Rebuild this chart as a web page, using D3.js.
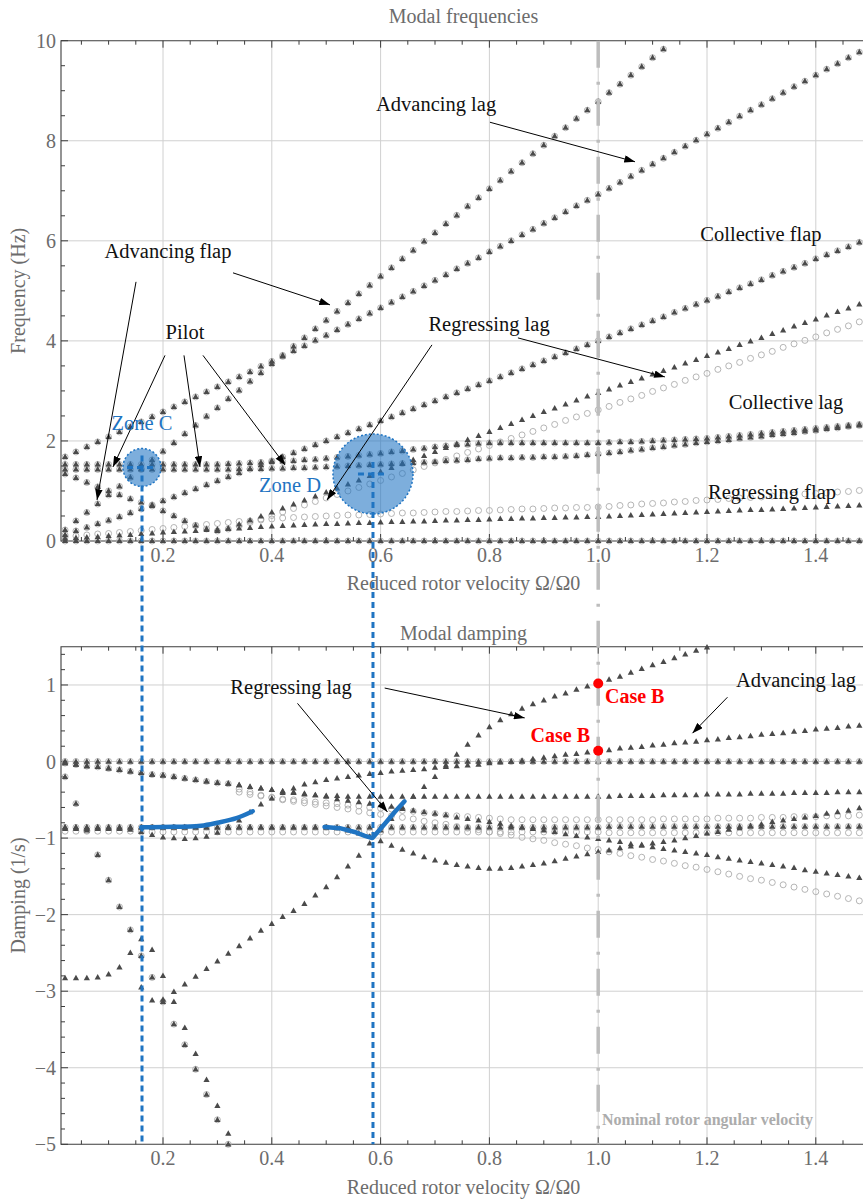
<!DOCTYPE html>
<html><head><meta charset="utf-8">
<script src="https://cdn.jsdelivr.net/npm/d3@7"></script>
<style>
body{margin:0;background:#fff}
svg{display:block}
text{font-family:"Liberation Serif","Times New Roman",serif}
</style></head>
<body><svg id="c" width="863" height="1200"></svg>
<script>
// ---------- sampling grid (reduced rotor velocity) ----------
const omega = [0.02,0.04,0.06,0.08,0.10,0.12,0.14,0.16,0.18,0.20,
 0.22,0.24,0.26,0.28,0.30,0.32,0.34,0.36,0.38,0.40,
 0.42,0.44,0.46,0.48,0.50,0.52,0.54,0.56,0.58,0.60,
 0.62,0.64,0.66,0.68,0.70,0.72,0.74,0.76,0.78,0.80,
 0.82,0.84,0.86,0.88,0.90,0.92,0.94,0.96,0.98,1.00,
 1.02,1.04,1.06,1.08,1.10,1.12,1.14,1.16,1.18,1.20,
 1.22,1.24,1.26,1.28,1.30,1.32,1.34,1.36,1.38,1.40,
 1.42,1.44,1.46,1.48,1.50];

// ---------- Modal frequencies (Hz) ----------
const freqAdvFlap = [0.22,0.40,0.57,0.74,0.92,1.09,1.27,1.44,1.62,1.79,
 1.96,2.14,2.31,2.49,2.66,2.84,3.01,3.19,3.36,3.54,
 3.71,3.89,4.06,4.24,4.41,4.59,4.76,4.94,5.11,5.29,
 5.46,5.64,5.81,5.99,6.16,6.34,6.51,6.69,6.86,7.04,
 7.21,7.39,7.56,7.74,7.91,8.09,8.26,8.44,8.61,8.78,
 8.96,9.13,9.31,9.48,9.66,9.83,10.01];
const freqAdvLag = [1.68,1.78,1.88,1.98,2.08,2.18,2.28,2.38,2.48,2.58,
 2.68,2.78,2.88,2.98,3.08,3.18,3.28,3.38,3.49,3.59,
 3.69,3.80,3.90,4.01,4.11,4.22,4.33,4.44,4.55,4.66,
 4.77,4.88,4.99,5.10,5.21,5.32,5.44,5.55,5.66,5.78,
 5.89,6.00,6.12,6.23,6.35,6.46,6.58,6.70,6.81,6.93,
 7.05,7.17,7.29,7.41,7.53,7.65,7.77,7.89,8.01,8.13,
 8.25,8.37,8.49,8.61,8.72,8.84,8.96,9.08,9.19,9.31,
 9.43,9.54,9.66,9.77,9.89];
const freqCollFlap = [0.12,0.20,0.27,0.34,0.41,0.48,0.56,0.64,0.72,0.80,
 0.88,0.96,1.04,1.12,1.20,1.28,1.36,1.44,1.52,1.60,
 1.68,1.76,1.84,1.92,2.00,2.08,2.16,2.24,2.32,2.40,
 2.48,2.56,2.64,2.72,2.80,2.88,2.96,3.04,3.12,3.20,
 3.28,3.36,3.44,3.52,3.60,3.68,3.76,3.84,3.92,4.00,
 4.08,4.16,4.24,4.32,4.40,4.48,4.57,4.65,4.73,4.81,
 4.89,4.98,5.06,5.14,5.22,5.31,5.39,5.47,5.55,5.64,
 5.72,5.80,5.88,5.97,6.05];
const freqRegLagTri = [1.34,1.26,1.17,1.08,1.00,0.92,0.84,0.77,0.70,0.60,
 0.50,0.40,0.31,0.24,0.20,0.25,0.33,0.41,0.49,0.57,
 0.65,0.73,0.81,0.89,0.97,1.05,1.13,1.21,1.30,1.38,
 1.46,1.54,1.62,1.70,1.78,1.86,1.94,2.02,2.10,2.18,
 2.26,2.34,2.42,2.50,2.58,2.65,2.73,2.81,2.89,2.96,
 3.03,3.11,3.18,3.25,3.33,3.40,3.47,3.55,3.62,3.70,
 3.77,3.84,3.92,3.99,4.06,4.14,4.21,4.29,4.36,4.43,
 4.51,4.58,4.65,4.73,4.80];
const freqRegLagCirc = [1.34,1.26,1.17,1.08,1.00,0.92,0.84,0.77,0.70,0.60,
 0.50,0.40,0.31,0.24,0.20,0.24,0.30,0.37,0.44,0.51,
 0.58,0.65,0.72,0.79,0.86,0.93,1.00,1.07,1.14,1.21,
 1.28,1.35,1.42,1.49,1.56,1.63,1.70,1.77,1.84,1.91,
 1.98,2.05,2.12,2.19,2.26,2.33,2.41,2.48,2.55,2.62,
 2.69,2.77,2.84,2.91,2.99,3.06,3.13,3.21,3.28,3.35,
 3.43,3.50,3.57,3.65,3.72,3.79,3.87,3.94,4.01,4.08,
 4.16,4.23,4.30,4.38,4.45];
const freqPilot1 = [1.53,1.53,1.53,1.53,1.53,1.53,1.53,1.53,1.53,1.53,
 1.53,1.53,1.53,1.53,1.53,1.54,1.55,1.56,1.57,1.58,
 1.59,1.60,1.62,1.63,1.65,1.67,1.69,1.71,1.73,1.75,
 1.78,1.80,1.83,1.85,1.88,1.90,1.92,1.93,1.95,1.96,
 1.96,1.96,1.96,1.96,1.96,1.96,1.96,1.96,1.96,1.96,
 1.97,1.98,1.98,1.99,2.00,2.01,2.02,2.03,2.04,2.05,
 2.07,2.09,2.11,2.13,2.15,2.17,2.19,2.21,2.23,2.25,
 2.27,2.29,2.31,2.33,2.35];
const freqPilot2 = [1.43,1.43,1.43,1.43,1.43,1.43,1.43,1.43,1.43,1.43,
 1.43,1.43,1.43,1.43,1.43,1.43,1.44,1.44,1.44,1.45,
 1.45,1.46,1.46,1.47,1.48,1.49,1.50,1.51,1.52,1.53,
 1.54,1.55,1.56,1.57,1.58,1.60,1.61,1.62,1.64,1.65,
 1.66,1.66,1.67,1.67,1.68,1.68,1.69,1.70,1.72,1.74,
 1.76,1.78,1.81,1.83,1.86,1.88,1.91,1.93,1.96,1.98,
 2.00,2.02,2.05,2.07,2.09,2.12,2.14,2.16,2.19,2.21,
 2.24,2.26,2.29,2.31,2.34];
const freqRegFlapTri = [0.05,0.06,0.07,0.08,0.10,0.11,0.12,0.14,0.15,0.17,
 0.18,0.19,0.20,0.22,0.23,0.24,0.25,0.26,0.28,0.29,
 0.30,0.31,0.32,0.33,0.34,0.34,0.35,0.36,0.36,0.37,
 0.38,0.38,0.39,0.39,0.40,0.41,0.41,0.42,0.42,0.43,
 0.44,0.44,0.45,0.45,0.46,0.46,0.47,0.47,0.48,0.48,
 0.49,0.50,0.51,0.52,0.53,0.54,0.55,0.56,0.57,0.58,
 0.59,0.60,0.61,0.62,0.62,0.63,0.64,0.65,0.66,0.67,
 0.68,0.69,0.70,0.71,0.72];
const freqRegFlapCirc = [0.08,0.10,0.12,0.14,0.15,0.17,0.19,0.21,0.23,0.25,
 0.27,0.29,0.31,0.33,0.35,0.37,0.39,0.40,0.42,0.44,
 0.46,0.47,0.48,0.49,0.50,0.51,0.52,0.52,0.53,0.54,
 0.55,0.56,0.56,0.57,0.58,0.59,0.59,0.60,0.61,0.61,
 0.62,0.63,0.64,0.64,0.65,0.66,0.66,0.67,0.67,0.68,
 0.69,0.71,0.72,0.74,0.75,0.76,0.78,0.79,0.81,0.82,
 0.83,0.85,0.86,0.87,0.88,0.90,0.91,0.92,0.94,0.95,
 0.96,0.98,0.99,1.01,1.02];
const freqZero = [0,0,0,0,0,0,0,0,0,0, 0,0,0,0,0,0,0,0,0,0, 0,0,0,0,0,0,0,0,0,0,
 0,0,0,0,0,0,0,0,0,0, 0,0,0,0,0,0,0,0,0,0, 0,0,0,0,0,0,0,0,0,0,
 0,0,0,0,0,0,0,0,0,0, 0,0,0,0,0];

// ---------- Modal damping (1/s) ----------
const dampZero = [0,0,0,0,0,0,0,0,0,0, 0,0,0,0,0,0,0,0,0,0, 0,0,0,0,0,0,0,0,0,0,
 0,0,0,0,0,0,0,0,0,0, 0,0,0,0,0,0,0,0,0,0, 0,0,0,0,0,0,0,0,0,0,
 0,0,0,0,0,0,0,0,0,0, 0,0,0,0,0];
const dampSteep = [-0.20,-0.55,-0.90,-1.22,-1.55,-1.90,-2.20,-2.54,-2.82,-3.14,
 -3.43,-3.70,-4.02,-4.35,-4.68,-5.00];
const dampRegLagA = [-2.83,-2.83,-2.83,-2.82,-2.78,-2.69,-2.50,-2.32,-2.46,-2.80,
 -3.14,-3.48,-3.82,-4.16,-4.50,-4.86];
const dampRegLagB = [null,null,null,null,null,null,null,-2.95,-3.12,-3.11,
 -3.01,-2.91,-2.81,-2.71,-2.61,-2.51,-2.41,-2.31,-2.21,-2.12,
 -2.03,-1.95,-1.86,-1.75,-1.64,-1.51,-1.37,-1.23,-1.07,-0.90,
 -0.75,-0.60,-0.46,-0.33,-0.20,-0.05,0.09,0.22,0.34,0.45,
 0.54,0.62,0.69,0.75,0.80,0.85,0.89,0.94,0.98,1.02,
 1.07,1.11,1.16,1.21,1.26,1.30,1.35,1.40,1.45,1.49];
const dampDesc = [-0.02,-0.04,-0.06,-0.07,-0.09,-0.11,-0.13,-0.15,-0.17,-0.18,
 -0.20,-0.22,-0.24,-0.26,-0.28,-0.29,-0.31,-0.33,-0.35,-0.37,
 -0.39,-0.40,-0.42,-0.44,-0.46,-0.49,-0.51,-0.53,-0.55,-0.57,
 -0.59,-0.62,-0.64,-0.66,-0.68,-0.70,-0.73,-0.75,-0.77,-0.79,
 -0.81,-0.84,-0.86,-0.88,-0.90,-0.92,-0.95,-0.97,-0.99,-1.01,
 -1.03,-1.05,-1.08,-1.10,-1.12,-1.14,-1.16,-1.18,-1.20,-1.22,
 -1.25,-1.27,-1.29,-1.31,-1.33,-1.35,-1.37,-1.39,-1.42,-1.44,
 -1.46,-1.48,-1.50,-1.52,-1.54];
const dampFlat45 = [-0.02,-0.04,-0.06,-0.07,-0.09,-0.11,-0.13,-0.15,-0.17,-0.18,
 -0.20,-0.22,-0.24,-0.26,-0.28,-0.29,-0.31,-0.33,-0.35,-0.37,
 -0.39,-0.41,-0.43,-0.44,-0.45,-0.45,-0.46,-0.46,-0.46,-0.46,
 -0.46,-0.46,-0.46,-0.46,-0.46,-0.46,-0.46,-0.46,-0.46,-0.46,
 -0.46,-0.46,-0.46,-0.46,-0.46,-0.46,-0.46,-0.46,-0.46,-0.46,
 -0.46,-0.45,-0.45,-0.45,-0.45,-0.44,-0.44,-0.44,-0.44,-0.43,
 -0.43,-0.43,-0.43,-0.42,-0.42,-0.42,-0.42,-0.41,-0.41,-0.41,
 -0.41,-0.40,-0.40,-0.40,-0.40];
const dampAdvLag = [-0.88,-0.88,-0.88,-0.88,-0.88,-0.88,-0.89,-0.92,-0.96,-0.99,
 -1.00,-1.01,-1.00,-0.98,-0.93,-0.86,-0.77,-0.66,-0.56,-0.48,
 -0.41,-0.35,-0.30,-0.27,-0.24,-0.22,-0.20,-0.18,-0.16,-0.15,
 -0.13,-0.12,-0.11,-0.10,-0.08,-0.07,-0.06,-0.05,-0.04,-0.02,
 -0.01,0.00,0.01,0.03,0.05,0.07,0.09,0.10,0.12,0.14,
 0.15,0.17,0.18,0.19,0.21,0.22,0.24,0.25,0.26,0.28,
 0.29,0.31,0.32,0.33,0.35,0.36,0.37,0.39,0.40,0.42,
 0.43,0.44,0.46,0.47,0.48];
const dampPilotV = [-0.86,-0.86,-0.86,-0.86,-0.86,-0.86,-0.86,-0.86,-0.86,-0.86,
 -0.86,-0.86,-0.86,-0.86,-0.86,-0.86,-0.86,-0.86,-0.86,-0.86,
 -0.86,-0.86,-0.86,-0.86,-0.86,-0.87,-0.90,-0.94,-0.98,-1.04,
 -1.10,-1.15,-1.20,-1.25,-1.29,-1.32,-1.35,-1.37,-1.39,-1.40,
 -1.40,-1.39,-1.37,-1.35,-1.33,-1.30,-1.27,-1.24,-1.21,-1.18,
 -1.16,-1.13,-1.11,-1.09,-1.07,-1.05,-1.03,-1.00,-0.97,-0.94,
 -0.92,-0.89,-0.87,-0.84,-0.82,-0.79,-0.77,-0.75,-0.73,-0.71,
 -0.68,-0.66,-0.64,-0.61,-0.59];
const dampFlat86 = [-0.86,-0.86,-0.86,-0.86,-0.86,-0.86,-0.86,-0.86,-0.86,-0.86,
 -0.86,-0.86,-0.86,-0.86,-0.86,-0.86,-0.86,-0.86,-0.86,-0.86,
 -0.86,-0.86,-0.86,-0.86,-0.86,-0.86,-0.86,-0.86,-0.86,-0.86,
 -0.86,-0.86,-0.86,-0.86,-0.86,-0.86,-0.86,-0.86,-0.86,-0.86,
 -0.86,-0.86,-0.86,-0.86,-0.86,-0.86,-0.86,-0.86,-0.86,-0.86,
 -0.85,-0.85,-0.85,-0.85,-0.85,-0.85,-0.85,-0.85,-0.85,-0.85,
 -0.85,-0.85,-0.85,-0.85,-0.85,-0.85,-0.85,-0.85,-0.85,-0.85,
 -0.85,-0.85,-0.85,-0.85,-0.85];
const dampCirc92 = [-0.91,-0.91,-0.91,-0.91,-0.91,-0.91,-0.91,-0.92,-0.92,-0.92,
 -0.92,-0.92,-0.92,-0.92,-0.92,-0.92,-0.92,-0.92,-0.92,-0.92,
 -0.92,-0.92,-0.92,-0.92,-0.92,-0.92,-0.92,-0.92,-0.92,-0.92,
 -0.92,-0.92,-0.92,-0.92,-0.92,-0.92,-0.92,-0.92,-0.92,-0.92,
 -0.92,-0.92,-0.92,-0.92,-0.92,-0.92,-0.92,-0.92,-0.92,-0.92,
 -0.93,-0.93,-0.93,-0.93,-0.93,-0.93,-0.93,-0.93,-0.93,-0.93,
 -0.93,-0.93,-0.93,-0.93,-0.93,-0.93,-0.93,-0.93,-0.93,-0.93,
 -0.93,-0.93,-0.93,-0.93,-0.93];
const dampCircDesc = [-0.02,-0.04,-0.06,-0.07,-0.09,-0.11,-0.13,-0.15,-0.17,-0.18,
 -0.20,-0.22,-0.24,-0.26,-0.28,-0.29,-0.36,-0.40,-0.44,-0.47,
 -0.50,-0.52,-0.54,-0.56,-0.58,-0.60,-0.62,-0.65,-0.67,-0.69,
 -0.71,-0.73,-0.75,-0.78,-0.80,-0.82,-0.85,-0.87,-0.89,-0.92,
 -0.94,-0.96,-0.99,-1.01,-1.03,-1.06,-1.08,-1.10,-1.13,-1.15,
 -1.18,-1.20,-1.23,-1.25,-1.28,-1.30,-1.33,-1.36,-1.38,-1.41,
 -1.44,-1.47,-1.50,-1.53,-1.55,-1.58,-1.61,-1.64,-1.67,-1.70,
 -1.73,-1.76,-1.79,-1.82,-1.86];
const dampCirc76 = [null,null,null,null,null,null,null,null,null,null,
 null,null,null,null,null,null,-0.40,-0.43,-0.45,-0.47,
 -0.49,-0.50,-0.51,-0.53,-0.54,-0.55,-0.57,-0.58,-0.60,-0.61,
 -0.62,-0.64,-0.65,-0.67,-0.68,-0.70,-0.71,-0.72,-0.73,-0.74,
 -0.75,-0.76,-0.76,-0.76,-0.76,-0.76,-0.76,-0.76,-0.76,-0.76,
 -0.76,-0.76,-0.76,-0.76,-0.76,-0.75,-0.75,-0.75,-0.75,-0.75,
 -0.74,-0.74,-0.74,-0.74,-0.73,-0.73,-0.73,-0.72,-0.72,-0.72,
 -0.71,-0.71,-0.71,-0.70,-0.70];

// coupled-mode tracking curves (blue)
const trackC_x = [0.16,0.20,0.25,0.27,0.30,0.335,0.365];
const trackC_y = [-0.86,-0.855,-0.85,-0.84,-0.80,-0.74,-0.65];
const trackD_x = [0.497,0.525,0.552,0.571,0.585,0.607,0.626,0.644];
const trackD_y = [-0.855,-0.87,-0.92,-0.97,-1.00,-0.82,-0.66,-0.52];

// Case B points at nominal speed
const caseB_x = [1.0, 1.0];
const caseB_y = [1.02, 0.14];

// axis ticks
const xTicks = [0.2,0.4,0.6,0.8,1.0,1.2,1.4];
const xTickLabels = ["0.2","0.4","0.6","0.8","1.0","1.2","1.4"];
const fTicks = [0,2,4,6,8,10];
const fTickLabels = ["0","2","4","6","8","10"];
const dTicks = [-5,-4,-3,-2,-1,0,1];
const dTickLabels = ["\u22125","\u22124","\u22123","\u22122","\u22121","0","1"];

// ---------- tables ----------
const topSeries = [
 {v:freqZero,m:'both'},{v:freqRegFlapTri,m:'tri'},{v:freqRegFlapCirc,m:'circ'},
 {v:freqRegLagTri,m:'tri'},{v:freqRegLagCirc,m:'circ'},
 {v:freqPilot2,m:'both'},{v:freqPilot1,m:'both'},
 {v:freqCollFlap,m:'both'},{v:freqAdvLag,m:'both'},{v:freqAdvFlap,m:'both'}];
const botSeries = [
 {v:dampZero,m:'both'},{v:dampSteep,m:'both'},{v:dampRegLagA,m:'tri'},{v:dampRegLagB,m:'tri'},
 {v:dampDesc,m:'tri'},{v:dampFlat45,m:'tri'},{v:dampAdvLag,m:'tri'},{v:dampPilotV,m:'tri'},
 {v:dampFlat86,m:'both'},{v:dampCirc92,m:'circ'},{v:dampCircDesc,m:'circ'},{v:dampCirc76,m:'circ'}];

// ---------- scales ----------
const svg = d3.select('#c');
const x = d3.scaleLinear().domain([0.0125,1.5]).range([61,870.2]);
const yF = d3.scaleLinear().domain([0,10]).range([541,40.7]);
const yD = d3.scaleLinear().domain([-5,1.5]).range([1144.3,646.7]);
const GRID='#d0d0d0', FRAME='#3c3c3c', TXT='#6c6c6c', BLUE='#1f74c2';

const defs = svg.append('defs');
defs.append('marker').attr('id','ah').attr('viewBox','0 0 10 7').attr('refX',10).attr('refY',3.5)
 .attr('markerWidth',11).attr('markerHeight',7.5).attr('markerUnits','userSpaceOnUse').attr('orient','auto')
 .append('path').attr('d','M0,0L10,3.5L0,7Z').attr('fill','#000');

function panel(y, yGrid, yMinor, yMajor, yLabels){
  const [x0,x1]=x.range(); const [yb,yt]=y.range();
  const g=svg.append('g');
  g.selectAll('.vg').data(xTicks).join('line').attr('x1',d=>x(d)).attr('x2',d=>x(d)).attr('y1',yt).attr('y2',yb)
   .attr('stroke',GRID).attr('stroke-width',1);
  g.selectAll('.hg').data(yGrid).join('line').attr('x1',x0).attr('x2',x1).attr('y1',d=>y(d)).attr('y2',d=>y(d))
   .attr('stroke',GRID).attr('stroke-width',1);
  g.append('path').attr('d',`M${x1},${yt}H${x0}V${yb}H${x1}`).attr('fill','none').attr('stroke',FRAME).attr('stroke-width',1.1);
  const xMinor=d3.range(0.05,1.5001,0.05).filter(v=>v>x.domain()[0]);
  [yt,yb].forEach((yy,k)=>{
    const dir = k===0?1:-1;
    g.selectAll(null).data(xMinor).join('line').attr('x1',d=>x(d)).attr('x2',d=>x(d))
     .attr('y1',yy).attr('y2',d=>yy+dir*(xTicks.some(t=>Math.abs(t-d)<1e-6)?7:4)).attr('stroke',FRAME).attr('stroke-width',1);
  });
  g.selectAll(null).data(yMinor).join('line').attr('x1',x0).attr('x2',d=>x0+(yMajor.some(t=>Math.abs(t-d)<1e-6)?7:4))
   .attr('y1',d=>y(d)).attr('y2',d=>y(d)).attr('stroke',FRAME).attr('stroke-width',1);
  g.selectAll(null).data(yMajor).join('text').attr('x',56).attr('y',d=>y(d)).attr('dy','0.35em')
   .attr('text-anchor','end').attr('font-size',20).attr('fill',TXT).text((d,i)=>yLabels[i]);
  g.selectAll(null).data(xTicks).join('text').attr('x',d=>x(d)).attr('y',yb+21).attr('text-anchor','middle')
   .attr('font-size',20).attr('fill',TXT).text((d,i)=>xTickLabels[i]);
}

function drawSeries(series, y){
  const [lo,hi]=y.domain();
  const g=svg.append('g');
  const pts=s=>s.v.map((v,i)=>[omega[i],v]).filter(d=>d[1]!=null&&d[1]>=lo-1e-9&&d[1]<=hi+1e-9);
  series.filter(s=>s.m!=='tri').forEach(s=>{
    g.append('g').selectAll('circle').data(pts(s)).join('circle')
     .attr('cx',d=>x(d[0])).attr('cy',d=>y(d[1])).attr('r',3)
     .attr('fill','none').attr('stroke','#adadad').attr('stroke-width',0.9);
  });
  series.filter(s=>s.m!=='circ').forEach(s=>{
    g.append('g').selectAll('path').data(pts(s)).join('path')
     .attr('transform',d=>`translate(${x(d[0])},${y(d[1])})`)
     .attr('d','M0,-3.4L3.1,2.1L-3.1,2.1Z').attr('fill','#4a4a4a');
  });
}

panel(yF,[2,4,6,8],d3.range(0,10.001,0.5),fTicks,fTickLabels);
panel(yD,[-4,-3,-2,-1,0,1],d3.range(-5,1.5001,0.2).map(v=>+v.toFixed(2)),dTicks,dTickLabels);

drawSeries(topSeries,yF);
drawSeries(botSeries,yD);

// nominal rotor speed line (spans both panels)
svg.append('line').attr('x1',x(1)).attr('x2',x(1)).attr('y1',yF(10)).attr('y2',yD(-5))
 .attr('stroke','#bdbdbd').attr('stroke-width',3.5).attr('stroke-dasharray','27,14,3,14');

// titles & axis labels
const mid=(61+870)/2-2;
svg.append('text').attr('x',mid).attr('y',23).attr('text-anchor','middle').attr('font-size',20).attr('fill',TXT).text('Modal frequencies');
svg.append('text').attr('x',mid).attr('y',640).attr('text-anchor','middle').attr('font-size',20).attr('fill',TXT).text('Modal damping');
svg.append('text').attr('x',mid).attr('y',590).attr('text-anchor','middle').attr('font-size',20).attr('fill',TXT).text('Reduced rotor velocity \u03A9/\u03A90');
svg.append('text').attr('x',mid).attr('y',1194).attr('text-anchor','middle').attr('font-size',20).attr('fill',TXT).text('Reduced rotor velocity \u03A9/\u03A90');
svg.append('text').attr('transform',`translate(25,${(yF(0)+yF(10))/2}) rotate(-90)`).attr('text-anchor','middle').attr('font-size',20).attr('fill',TXT).text('Frequency (Hz)');
svg.append('text').attr('transform',`translate(25,${(yD(-5)+yD(1.5))/2}) rotate(-90)`).attr('text-anchor','middle').attr('font-size',20).attr('fill',TXT).text('Damping (1/s)');

// zones
const zones=[{x:0.1614,f:1.47,r:19},{x:0.586,f:1.34,r:40}];
zones.forEach(z=>{
  const cx=x(z.x), cy=yF(z.f);
  svg.append('circle').attr('cx',cx).attr('cy',cy).attr('r',z.r).attr('fill',BLUE).attr('fill-opacity',0.58)
   .attr('stroke',BLUE).attr('stroke-width',1.5).attr('stroke-dasharray','2,2');
  svg.append('line').attr('x1',cx-15).attr('x2',cx+15).attr('y1',cy).attr('y2',cy).attr('stroke',BLUE).attr('stroke-width',3).attr('stroke-dasharray','6,4');
  svg.append('line').attr('x1',cx).attr('x2',cx).attr('y1',cy-12).attr('y2',yD(-5)).attr('stroke',BLUE).attr('stroke-width',3).attr('stroke-dasharray','6,4');
});

// blue tracking curves
const lineC=d3.line().x(d=>x(d[0])).y(d=>yD(d[1])).curve(d3.curveMonotoneX);
svg.append('path').attr('d',lineC(trackC_x.map((v,i)=>[v,trackC_y[i]]))).attr('fill','none').attr('stroke',BLUE).attr('stroke-width',4.5).attr('stroke-linecap','round');
const lineD=d3.line().x(d=>x(d[0])).y(d=>yD(d[1]));
svg.append('path').attr('d',lineD(trackD_x.map((v,i)=>[v,trackD_y[i]]))).attr('fill','none').attr('stroke',BLUE).attr('stroke-width',4.5).attr('stroke-linecap','round').attr('stroke-linejoin','round');

// Case B points
svg.selectAll('.cb').data(caseB_x).join('circle').attr('cx',d=>x(d)).attr('cy',(d,i)=>yD(caseB_y[i])).attr('r',5).attr('fill','#ff0000');

// annotations (data coords)
const arrowsTop=[[0.801,8.37,1.0677,7.58],[0.3287,5.36,0.507,4.72],[0.1504,5.18,0.0787,0.82],
 [0.2037,3.71,0.108,1.48],[0.2386,3.71,0.268,1.48],[0.2735,3.71,0.4243,1.52],
 [0.8524,4.06,1.1226,3.28],[0.6944,3.92,0.5015,0.82]];
const arrowsBot=[[0.6075,0.96,0.8649,0.57],[0.4472,0.76,0.6127,-0.66],[1.2376,0.84,1.1733,0.37]];
arrowsTop.forEach(a=>svg.append('line').attr('x1',x(a[0])).attr('y1',yF(a[1])).attr('x2',x(a[2])).attr('y2',yF(a[3]))
  .attr('stroke','#000').attr('stroke-width',1).attr('marker-end','url(#ah)'));
arrowsBot.forEach(a=>svg.append('line').attr('x1',x(a[0])).attr('y1',yD(a[1])).attr('x2',x(a[2])).attr('y2',yD(a[3]))
  .attr('stroke','#000').attr('stroke-width',1).attr('marker-end','url(#ah)'));

const notesTop=[['Advancing lag',0.702,8.59],['Advancing flap',0.2092,5.66],['Pilot',0.2404,4.04],
 ['Regressing lag',0.7993,4.2],['Collective flap',1.2992,6.0],['Collective lag',1.3452,2.64],['Regressing flap',1.3195,0.84]];
notesTop.forEach(n=>svg.append('text').attr('x',x(n[1])).attr('y',yF(n[2])).attr('text-anchor','middle').attr('font-size',20.5).attr('fill','#111').text(n[0]));
const notesBot=[['Regressing lag',0.4353,0.88],['Advancing lag',1.3636,0.97]];
notesBot.forEach(n=>svg.append('text').attr('x',x(n[1])).attr('y',yD(n[2])).attr('text-anchor','middle').attr('font-size',20.5).attr('fill','#111').text(n[0]));
svg.append('text').attr('x',x(0.1614)).attr('y',yF(2.22)).attr('text-anchor','middle').attr('font-size',20.5).attr('fill',BLUE).text('Zone C');
svg.append('text').attr('x',x(0.4335)).attr('y',yF(0.98)).attr('text-anchor','middle').attr('font-size',20.5).attr('fill',BLUE).text('Zone D');
svg.append('text').attr('x',x(1.0125)).attr('y',yD(0.76)).attr('font-size',20).attr('font-weight','bold').attr('fill','#f00').text('Case B');
svg.append('text').attr('x',x(0.9849)).attr('y',yD(0.25)).attr('text-anchor','end').attr('font-size',20).attr('font-weight','bold').attr('fill','#f00').text('Case B');
svg.append('text').attr('x',x(1.007)).attr('y',yD(-4.75)).attr('font-size',16).attr('font-weight','bold').attr('fill','#acacac').text('Nominal rotor angular velocity');
</script></body></html>
